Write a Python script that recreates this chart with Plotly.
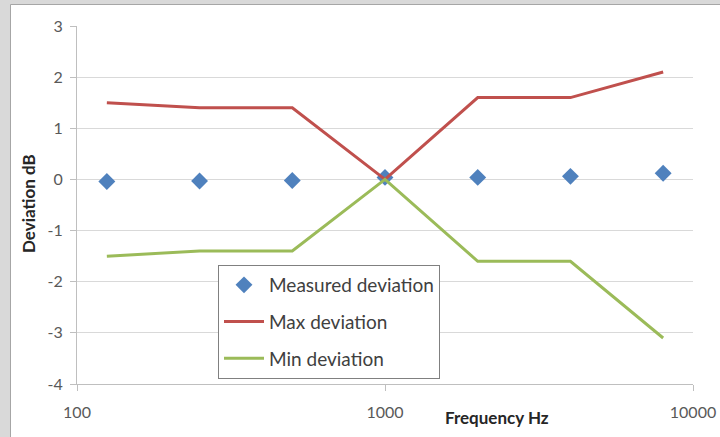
import plotly.graph_objects as go

freq_hz = [125, 250, 500, 1000, 2000, 4000, 8000]
measured_dev = [-0.04, -0.03, -0.02, 0.04, 0.04, 0.06, 0.12]
max_dev = [1.5, 1.4, 1.4, 0.0, 1.6, 1.6, 2.1]
min_dev = [-1.5, -1.4, -1.4, 0.0, -1.6, -1.6, -3.1]
x_ticks = [100, 1000, 10000]
x_tick_text = ["100", "1000", "10000"]
y_ticks = [-4, -3, -2, -1, 0, 1, 2, 3]
y_tick_text = ["-4", "-3", "-2", "-1", "0", "1", "2", "3"]

FONT = "Lato, Open Sans, sans-serif"
L, R, T, B = 77, 27, 26, 53
W, H = 720, 437
pw, ph = W - L - R, H - T - B

def px_x(X):
    return (X - L) / pw

def px_y(Y):
    return (H - B - Y) / ph

fig = go.Figure()
fig.add_trace(go.Scatter(x=freq_hz, y=measured_dev, mode="markers", name="Measured deviation",
                         marker=dict(symbol="diamond", size=13, color="#4f81bd"), legendgroup="a"))
fig.add_trace(go.Scatter(x=freq_hz, y=max_dev, mode="lines", name="Max deviation",
                         line=dict(color="#c0504d", width=3), legendgroup="b"))
fig.add_trace(go.Scatter(x=freq_hz, y=min_dev, mode="lines", name="Min deviation",
                         line=dict(color="#9bbb59", width=3), legendgroup="c"))

fig.update_layout(
    width=W, height=H,
    margin=dict(l=L, r=R, t=T, b=B, autoexpand=False),
    paper_bgcolor="#d9d9d9",
    plot_bgcolor="white",
    font=dict(family=FONT, size=16, color="#595959"),
    showlegend=True,
    legend=dict(x=px_x(218), y=px_y(265), xanchor="left", yanchor="top",
                bgcolor="white", bordercolor="#808080", borderwidth=1,
                font=dict(family=FONT, size=19, color="#404040"),
                traceorder="grouped", tracegroupgap=9, itemwidth=40),
    xaxis=dict(type="log", range=[2, 4], tickvals=x_ticks, ticktext=x_tick_text,
               showgrid=False, showline=True, linecolor="#bfbfbf", linewidth=1,
               ticks="outside", ticklen=6, tickcolor="#bfbfbf", zeroline=False,
               ticklabelstandoff=8, automargin=False),
    yaxis=dict(range=[-4, 3], tickvals=y_ticks, ticktext=y_tick_text,
               showgrid=True, gridcolor="#d9d9d9",
               gridwidth=1.3, showline=True, linecolor="#bfbfbf", linewidth=1,
               ticks="outside", ticklen=6, tickcolor="#bfbfbf", zeroline=False,
               ticklabelstandoff=4, automargin=False),
    shapes=[dict(type="rect", xref="paper", yref="paper", layer="below",
                 x0=px_x(10.5), x1=px_x(725), y0=px_y(445), y1=px_y(4.5),
                 fillcolor="white", line=dict(color="#a6a6a6", width=1))],
    annotations=[
        dict(text="<b>Deviation dB</b>", xref="paper", yref="paper", x=px_x(28), y=px_y(204),
             xanchor="center", yanchor="middle",
             textangle=-90, showarrow=False, font=dict(family=FONT, size=17, color="#262626")),
        dict(text="<b>Frequency Hz</b>", xref="paper", yref="paper", x=px_x(497), y=px_y(417),
             xanchor="center", yanchor="middle",
             showarrow=False, font=dict(family=FONT, size=17, color="#262626")),
    ],
)

fig.write_html("out.html", config={"displayModeBar": False},
               post_script="document.body.style.margin='0';")
